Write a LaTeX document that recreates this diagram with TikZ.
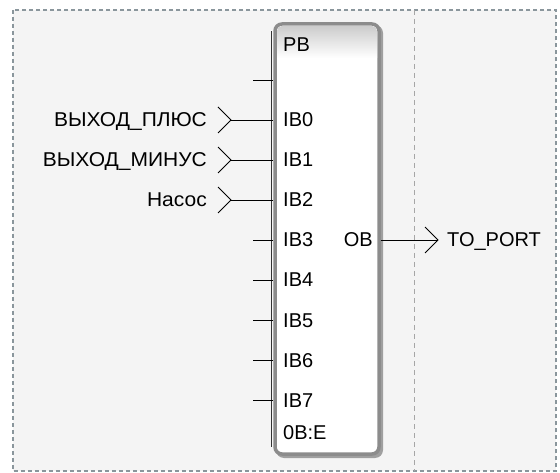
\documentclass[tikz,border=0pt]{standalone}
\usepackage{fontspec}
\setmainfont{Liberation Sans}
\usetikzlibrary{positioning}

\definecolor{framegray}{HTML}{8A969C}
\definecolor{panelgray}{HTML}{F4F4F4}
\definecolor{rimgray}{HTML}{8C8C8C}

\begin{document}
\begin{tikzpicture}[
    x=1pt, y=-1pt,
    font=\fontsize{20}{22}\selectfont,
    frame/.style={draw=framegray, line width=1.3pt, dash pattern=on 4pt off 3pt},
    divider/.style={draw=gray!70, line width=0.8pt, dash pattern=on 5pt off 4pt},
    block/.style={draw=rimgray, line width=3.5pt, fill=white, rounded corners=7pt,
        minimum width=104pt, minimum height=430pt, inner sep=0pt},
    wire/.style={draw, line width=0.9pt},
    chevron/.style={draw, line width=0.9pt},
    pinlabel/.style={anchor=base west, inner sep=0pt},
    varlabel/.style={anchor=base east, inner sep=0pt, xscale=1.05},
]

% Background and frame
\fill[white] (0,0) rectangle (560,473);
\fill[panelgray] (13,10) rectangle (556,471);
\draw[frame] (13,10) rectangle (556,471);
\draw[divider] (414,10) -- (414,471);

% Block PB (with shadow on right and bottom)
\fill[gray!75, rounded corners=8pt] (276,25) rectangle (383,458);
\node[block] (pb) at (327,239) {};
\draw[black!80, line width=0.8pt]
    ([xshift=-1.6pt,yshift=-9pt]pb.north west) -- ([xshift=-1.6pt,yshift=9pt]pb.south west);
\begin{scope}
  \clip[rounded corners=5pt] (277,26) rectangle (377,452);
  \shade[top color=gray!40, bottom color=white] (277,26) rectangle (377,58);
\end{scope}
\node[pinlabel] (title) at (283,52) {PB};

% Free pin on top
\coordinate (free) at (253,80);
\draw[wire] (free) -- (free -| pb.west);

% Inputs IB0..IB7
\foreach \k in {0,...,7} {
  \pgfmathsetmacro{\py}{120+40*\k}
  \node[pinlabel] (ib\k) at (283,\py+7) {IB\k};
}

% Connected inputs
\foreach \k/\txt in {0/ВЫХОД\_ПЛЮС, 1/ВЫХОД\_МИНУС, 2/Насос} {
  \pgfmathsetmacro{\py}{120+40*\k}
  \node[varlabel] (var\k) at (207,\py+7) {\txt};
  \coordinate (tip\k) at (231,\py);
  \draw[chevron] ([xshift=-13pt,yshift=13pt]tip\k) -- (tip\k) -- ([xshift=-13pt,yshift=-13pt]tip\k);
  \draw[wire] (tip\k) -- (tip\k -| pb.west);
}

% Free inputs
\foreach \k in {3,...,7} {
  \pgfmathsetmacro{\py}{120+40*\k}
  \coordinate (end\k) at (253,\py);
  \draw[wire] (end\k) -- (end\k -| pb.west);
}

\node[pinlabel] (enable) at (283,439) {0B:E};

% Output
\node[anchor=base east, inner sep=0pt] (ob) at (373,247) {OB};
\coordinate (otip) at (438,240);
\draw[wire] (otip -| pb.east) -- (otip);
\draw[chevron] ([xshift=-13pt,yshift=13pt]otip) -- (otip) -- ([xshift=-13pt,yshift=-13pt]otip);
\node[anchor=base west, inner sep=0pt] (port) at (447,247) {TO\_PORT};

\end{tikzpicture}
\end{document}
